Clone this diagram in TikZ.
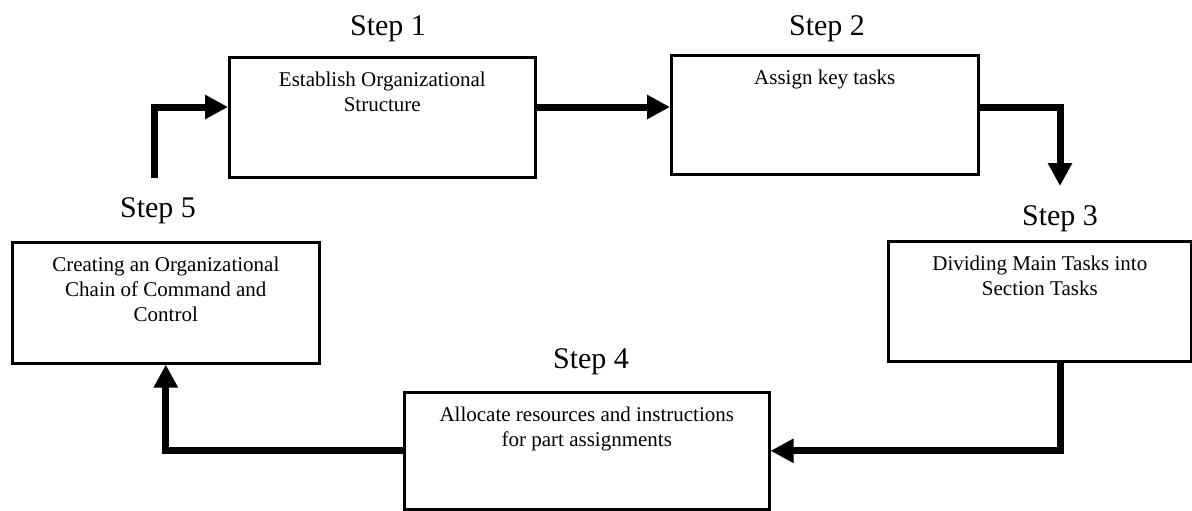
\documentclass[tikz,border=0pt]{standalone}
\usepackage{fontspec}
\setmainfont{Liberation Serif}
\usetikzlibrary{arrows.meta}

\tikzset{
  stepbox/.style={draw, line width=1.3pt, rectangle, inner sep=0pt, anchor=north west},
  boxtext/.style={anchor=north, inner sep=0pt, yshift=-8pt, align=center,
    font=\fontsize{10.5}{12.5}\selectfont},
  steplabel/.style={anchor=base, inner sep=0pt, font=\fontsize{15}{18}\selectfont},
  flow/.style={line width=3.5pt, -{Triangle[length=11.5pt,width=11.5pt]}}
}

\begin{document}
\begin{tikzpicture}[x=0.5pt,y=-0.5pt]
  \useasboundingbox (0,0) rectangle (1192,510);
  % the five boxes
  \node[stepbox, minimum width=153pt, minimum height=60pt,
    label={[boxtext]north:Establish Organizational\\Structure}] (s1) at (228,56) {};
  \node[stepbox, minimum width=153.5pt, minimum height=59.5pt,
    label={[boxtext]north:Assign key tasks}] (s2) at (670,54) {};
  \node[stepbox, minimum width=151.5pt, minimum height=60pt,
    label={[boxtext]north:Dividing Main Tasks into\\Section Tasks}] (s3) at (887,240) {};
  \node[stepbox, minimum width=182.5pt, minimum height=58.5pt,
    label={[boxtext]north:Allocate resources and instructions\\for part assignments}] (s4) at (403,391) {};
  \node[stepbox, minimum width=153.5pt, minimum height=60.5pt,
    label={[boxtext]north:Creating an Organizational\\Chain of Command and\\Control}] (s5) at (11,241) {};
  % step titles
  \node[steplabel] (t1) at (388,35) {Step 1};
  \node[steplabel] (t2) at (827,35) {Step 2};
  \node[steplabel] (t3) at (1060,225) {Step 3};
  \node[steplabel] (t4) at (591,368) {Step 4};
  \node[steplabel] (t5) at (158,217) {Step 5};
  % arrows
  \coordinate (r1) at (0,107);
  \coordinate (c23) at (1060,186);
  \coordinate (c51) at (154,178);
  \draw[flow] (s1.east |- r1) -- (s2.west |- r1);
  \draw[flow] (s2.east |- r1) -| (c23);
  \draw[flow] (s3.south -| c23) |- (s4.east);
  \draw[flow] (s4.west) -| (s5.south);
  \draw[flow] (c51) |- (s1.west |- r1);
\end{tikzpicture}
\end{document}
